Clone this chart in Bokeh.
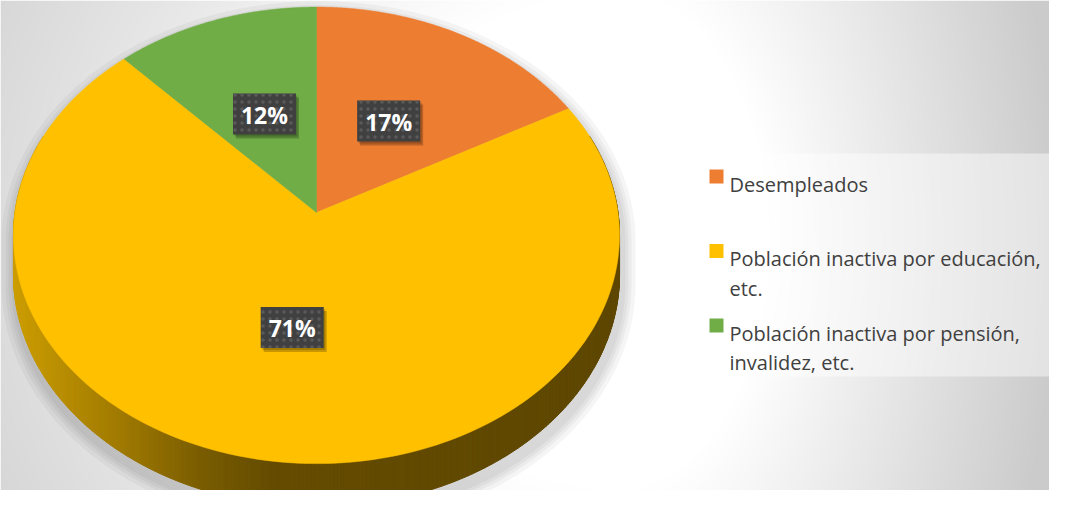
import numpy as np
from bokeh.plotting import figure
from bokeh.models import Range1d
from bokeh.embed import file_html
from bokeh.resources import INLINE
from bokeh.core.properties import value

# ---------------- data ----------------
categories = ["Desempleados",
              "Población inactiva por educación, etc.",
              "Población inactiva por pensión, invalidez, etc."]
legend_lines = [["Desempleados"],
                ["Población inactiva por educación,", "etc."],
                ["Población inactiva por pensión,", "invalidez, etc."]]
shares = [17, 71, 12]
labels = ["17%", "71%", "12%"]
colors = ["#ED7D31", "#FFC000", "#70AD47"]

# ---------------- figure ----------------
W, H = 1049, 490
p = figure(width=W, height=H, x_range=Range1d(0, W), y_range=Range1d(H, 0),
           output_backend="svg", toolbar_location=None, min_border=0,
           x_axis_location=None, y_axis_location=None)
p.grid.visible = False
p.outline_line_color = None
p.background_fill_color = "white"

# background radial gradient
xs = np.arange(0, W) + 0.5
ys = np.arange(0, H) + 0.5
X, Y = np.meshgrid(xs, ys)
dx = X - 620.0
dx = np.where(dx < 0, dx * 0.55, dx)
dy = (Y - 240.0) * 0.6
d = np.hypot(dx, dy)
t = np.clip((d - 150.0) / 290.0, 0, 1)
g = (255 - t * (255 - 203)).astype(np.uint32)
img = (255 << 24) | (g << 16) | (g << 8) | g
p.image_rgba(image=[img.astype(np.uint32)], x=0, y=0, dw=W, dh=H)

# ---------------- 3D pie geometry ----------------
CX, CY = 316.0, 212.0
A, B, K = 301.5, 226.0, 0.1
DEPTH = 39.0


def proj(r, ang):
    u = r * np.sin(ang)
    v = r * np.cos(ang)
    w = 1 + K * v
    return CX + A * u / w, CY - B * v / w, w


fr = np.array(shares, dtype=float) / np.sum(shares)
edges = np.concatenate([[0], np.cumsum(fr)]) * 2 * np.pi

# silhouette & shadow
angs = np.linspace(0, 2 * np.pi, 721)
tx, ty, tw = proj(1.0, angs)
bx, by = tx, ty + DEPTH / tw
pts = np.concatenate([np.c_[tx, ty], np.c_[bx, by]])


def hull(points):
    pts_ = sorted(map(tuple, points))
    def cross(o, a, b):
        return (a[0] - o[0]) * (b[1] - o[1]) - (a[1] - o[1]) * (b[0] - o[0])
    lower, upper = [], []
    for q in pts_:
        while len(lower) >= 2 and cross(lower[-2], lower[-1], q) <= 0:
            lower.pop()
        lower.append(q)
    for q in reversed(pts_):
        while len(upper) >= 2 and cross(upper[-2], upper[-1], q) <= 0:
            upper.pop()
        upper.append(q)
    return np.array(lower[:-1] + upper[:-1])


hl = hull(pts)
hcx, hcy = 315.0, 255.0
for e in [14, 10, 7, 4]:
    fx = 1 + e / 303.0
    fy = 1 + e / 250.0
    p.patch(hcx + (hl[:, 0] - hcx) * fx + 2, hcy + (hl[:, 1] - hcy) * fy + 8,
            fill_color="black", fill_alpha=0.04, line_color=None)

# side wall with horizontal gradient
stops_x = [12, 60, 120, 200, 270, 620]
stops_r = [205, 185, 160, 122, 101, 94]
stops_g = [158, 142, 122, 93, 76, 71]
stops_b = [0, 0, 0, 0, 0, 0]
sxs, sys_, scol = [], [], []
for i in range(len(angs) - 1):
    if np.cos((angs[i] + angs[i + 1]) / 2) > 0.35:
        continue
    sxs.append([tx[i], tx[i + 1], bx[i + 1], bx[i]])
    sys_.append([ty[i], ty[i + 1], by[i + 1], by[i]])
    mx = (tx[i] + tx[i + 1]) / 2
    r = int(np.interp(mx, stops_x, stops_r))
    gg = int(np.interp(mx, stops_x, stops_g))
    b = int(np.interp(mx, stops_x, stops_b))
    scol.append("#%02x%02x%02x" % (r, gg, b))
p.patches(sxs, sys_, fill_color=scol, line_color=scol, line_width=1)

# top face slices
for i in range(len(shares)):
    a = np.linspace(edges[i], edges[i + 1], 200)
    ax_, ay_, _ = proj(1.0, a)
    px = np.concatenate([[CX], ax_])
    py = np.concatenate([[CY], ay_])
    p.patch(px, py, fill_color=colors[i], line_color=colors[i], line_width=0.5)

# data labels
mids = (edges[:-1] + edges[1:]) / 2
lx, ly, _ = proj(0.49, mids)
p.rect(lx + 3, ly + 4, width=63, height=41, width_units="screen", height_units="screen",
       fill_color="black", fill_alpha=0.22, line_color=None)
p.rect(lx + 1.5, ly + 2, width=63, height=41, width_units="screen", height_units="screen",
       fill_color="black", fill_alpha=0.18, line_color=None)
p.rect(lx, ly, width=63, height=41, width_units="screen", height_units="screen",
       fill_color="#404040", line_color=None,
       hatch_pattern="dot", hatch_color="#5a5a5a", hatch_scale=7, hatch_weight=2.5)
p.text(lx, ly + 1, text=labels, text_font=value("Open Sans"), text_font_style="bold",
       text_font_size="23px", text_color="white", text_align="center",
       text_baseline="middle")

# ---------------- legend ----------------
p.rect([874], [264.5], width=350, height=223, fill_color="white", fill_alpha=0.45,
       line_color=None)
leg_y0, leg_step = 176.0, 74.5
line_h = 29.5
for i, lines in enumerate(legend_lines):
    yc = leg_y0 + i * leg_step
    p.rect([716], [yc], width=14, height=14, width_units="screen",
           height_units="screen", fill_color=colors[i], line_color=None)
    for j, ln in enumerate(lines):
        p.text([729], [yc + 7.5 + j * line_h], text=[ln], text_font=value("Open Sans"),
               text_font_size="20px", text_color="#404040", text_align="left",
               text_baseline="alphabetic")

open("out.html", "w").write(file_html(p, INLINE))
